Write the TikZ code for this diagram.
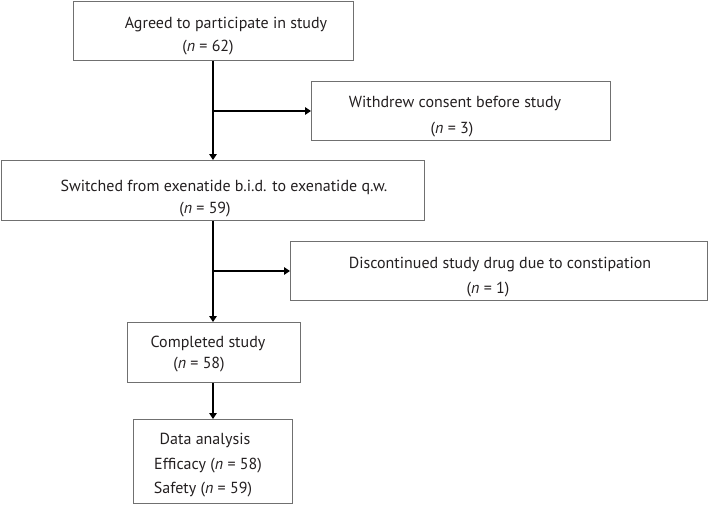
\documentclass[tikz,border=0pt]{standalone}
\usepackage{fontspec}
\setmainfont{PT Sans}
\usetikzlibrary{arrows.meta}
\definecolor{boxgray}{RGB}{112,112,112}
\definecolor{txt}{RGB}{35,31,32}
\tikzset{
  box/.style={draw=boxgray, line width=1.3pt, rectangle, inner sep=0pt, anchor=north west},
  lbl/.style={inner sep=0pt, anchor=base, text=txt, font=\fontsize{16}{19}\selectfont},
  conn/.style={line width=2.4pt, black, -{Triangle[length=6pt,width=7.5pt]}},
  trunk/.style={line width=2.4pt, black}
}
\begin{document}
\begin{tikzpicture}[x=1pt,y=-1pt]
\useasboundingbox (0,0) rectangle (709,504);
% boxes
\node[box, minimum width=280pt, minimum height=59pt] (b1) at (73,1) {};
\node[box, minimum width=299pt, minimum height=59pt] (b2) at (311,81) {};
\node[box, minimum width=423pt, minimum height=60pt] (b3) at (0.7,160) {};
\node[box, minimum width=417pt, minimum height=59pt] (b4) at (290,241) {};
\node[box, minimum width=173pt, minimum height=60pt] (b5) at (127,322) {};
\node[box, minimum width=159pt, minimum height=84pt] (b6) at (133,419) {};
% texts
\node[lbl] (t1a) at (226,28) {Agreed to participate in study};
\node[lbl] (t1b) at (208,51) {(\textit{n} = 62)};
\node[lbl] (t2a) at (455,107) {Withdrew consent before study};
\node[lbl] (t2b) at (452,133) {(\textit{n} = 3)};
\node[lbl] (t3a) at (224,191) {Switched from exenatide b.i.d. to exenatide q.w.};
\node[lbl] (t3b) at (205,213) {(\textit{n} = 59)};
\node[lbl] (t4a) at (500,268) {Discontinued study drug due to constipation};
\node[lbl] (t4b) at (488,293) {(\textit{n} = 1)};
\node[lbl] (t5a) at (208,347) {Completed study};
\node[lbl] (t5b) at (199,368) {(\textit{n} = 58)};
\node[lbl] (t6a) at (205,444) {Data analysis};
\node[lbl] (t6b) at (208,469) {Efficacy (\textit{n} = 58)};
\node[lbl] (t6c) at (203,493) {Safety (\textit{n} = 59)};
% junctions
\coordinate (j1) at (213,111);
\coordinate (j2) at (213,271);
% connectors
\draw[conn] (b1.south -| j1) -- (b3.north -| j1);
\draw[conn] (j1) -- (j1 -| b2.west);
\draw[conn] (b3.south -| j2) -- (b5.north -| j2);
\draw[conn] (j2) -- (j2 -| b4.west);
\draw[conn] (b5.south -| j2) -- (b6.north -| j2);
\end{tikzpicture}
\end{document}
